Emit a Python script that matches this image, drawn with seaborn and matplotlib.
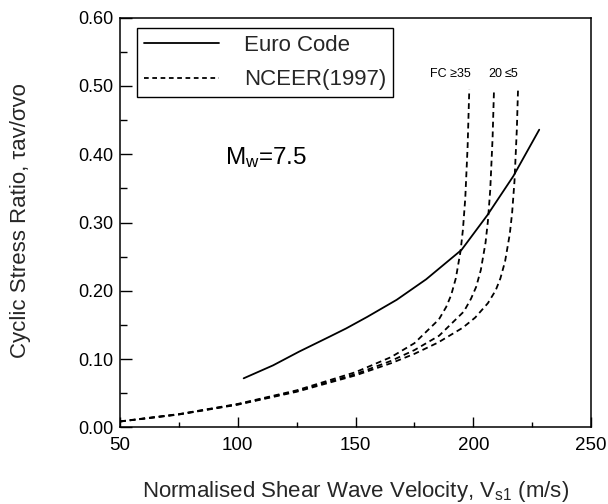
import matplotlib
matplotlib.use("Agg")
import matplotlib.pyplot as plt
import seaborn as sns
import pandas as pd
from matplotlib.lines import Line2D

# Euro Code curve (normalised shear wave velocity vs cyclic stress ratio)
euro_vs = [102.5, 115, 126, 139, 146, 155, 167.5, 180, 195, 206, 217, 228]
euro_csr = [0.072, 0.091, 0.111, 0.133, 0.145, 0.162, 0.187, 0.217, 0.260, 0.311, 0.368, 0.436]

# NCEER (1997) boundary curves for three fines contents
fc35_vs = [50, 75, 100, 125, 150, 165, 175, 185.4, 188.5, 190.6, 192.6, 194.6, 195.6, 196.6, 197.6, 198.3]
fc35_csr = [0.009, 0.0196, 0.0345, 0.0544, 0.081, 0.1029, 0.1234, 0.1582, 0.1765, 0.1938, 0.2186, 0.2584,
            0.2896, 0.3358, 0.4119, 0.495]

fc20_vs = [50, 75, 100, 125, 150, 165, 175, 185.5, 196, 199, 201.2, 203.2, 205.2, 206.2, 207.2, 208.2, 208.8]
fc20_csr = [0.0088, 0.0193, 0.0339, 0.0532, 0.0782, 0.0974, 0.1133, 0.1344, 0.1698, 0.1883, 0.2057, 0.2306,
            0.2705, 0.3018, 0.348, 0.4242, 0.495]

fc5_vs = [50, 75, 100, 125, 150, 165, 175, 185, 195.5, 200.8, 206.2, 209.5, 211.5, 213.5, 215.5, 216.5,
          217.5, 218.5, 219.0]
fc5_csr = [0.0087, 0.019, 0.0334, 0.0523, 0.0763, 0.094, 0.1078, 0.1243, 0.146, 0.1609, 0.182, 0.2007,
           0.2182, 0.2432, 0.2833, 0.3146, 0.3609, 0.4372, 0.495]

fc_labels = ["FC \u226535", "20", "\u22645"]
fc_label_vs = [190.3, 209.2, 216.4]
fc_label_csr = 0.518

x_ticks = [50, 100, 150, 200, 250]
y_ticks = [0.00, 0.10, 0.20, 0.30, 0.40, 0.50, 0.60]

sns.set_theme(style="ticks")
plt.rcParams["font.family"] = ["Liberation Sans", "DejaVu Sans"]
plt.rcParams["mathtext.fontset"] = "custom"
plt.rcParams["mathtext.rm"] = "Liberation Sans"
plt.rcParams["mathtext.it"] = "Liberation Sans:italic"

fig = plt.figure(figsize=(6.08, 5.04), dpi=100)
ax = fig.add_axes([0.1974, 0.1518, 0.7747, 0.8131])

lw = 1.3
dash = (0, (3.2, 2.2))

euro_df = pd.DataFrame({"vs": euro_vs, "csr": euro_csr})
sns.lineplot(data=euro_df, x="vs", y="csr", ax=ax, color="black", lw=lw, estimator=None, sort=False)

for vs, csr in [(fc35_vs, fc35_csr), (fc20_vs, fc20_csr), (fc5_vs, fc5_csr)]:
    df = pd.DataFrame({"vs": vs, "csr": csr})
    sns.lineplot(data=df, x="vs", y="csr", ax=ax, color="black", lw=lw, linestyle=dash,
                 estimator=None, sort=False)

for lab, xv in zip(fc_labels, fc_label_vs):
    ax.text(xv, fc_label_csr, lab, ha="center", va="center", fontsize=9, color="black")

ax.text(0.222, 0.658, r"M$_\mathrm{w}$=7.5", transform=ax.transAxes, fontsize=17.5,
        ha="left", va="center", color="black")

ax.set_xlim(50, 250)
ax.set_ylim(0, 0.6)
ax.set_xticks(x_ticks)
ax.set_xticklabels([str(t) for t in x_ticks])
ax.set_yticks(y_ticks)
ax.set_yticklabels([f"{t:.2f}" for t in y_ticks])
ax.set_xticks([75, 125, 175, 225], minor=True)
ax.set_yticks([0.05, 0.15, 0.25, 0.35, 0.45, 0.55], minor=True)

ax.tick_params(axis="both", which="both", direction="in", colors="black", width=1.0)
ax.tick_params(axis="y", which="major", length=8.5, pad=5, labelsize=13)
ax.tick_params(axis="y", which="minor", length=5)
ax.tick_params(axis="x", which="major", length=7, pad=7, labelsize=13.5)
ax.tick_params(axis="x", which="minor", length=3.6)

for side in ["left", "bottom", "top", "right"]:
    ax.spines[side].set_visible(True)
    ax.spines[side].set_color("black")
    ax.spines[side].set_linewidth(1.1)

ax.set_xlabel(r"Normalised Shear Wave Velocity, V$_\mathrm{s1}$ (m/s)", fontsize=16)
ax.set_ylabel("Cyclic Stress Ratio, \u03c4av/\u03c3vo", fontsize=16)
ax.xaxis.set_label_coords(0.5, -0.125)
ax.yaxis.set_label_coords(-0.19, 0.505)

handles = [Line2D([], [], color="black", lw=lw),
           Line2D([], [], color="black", lw=lw, linestyle=(0, (2.6, 2.0)))]
leg = ax.legend(handles, ["Euro Code", "NCEER(1997)"], loc="upper left",
                bbox_to_anchor=(0.036, 0.974), borderaxespad=0, fontsize=16,
                frameon=True, fancybox=False, edgecolor="black", framealpha=1,
                handlelength=3.4, handletextpad=1.1, labelspacing=0.6, borderpad=0.3)
leg.get_frame().set_linewidth(1.0)

fig.savefig("out.png", dpi=100)
